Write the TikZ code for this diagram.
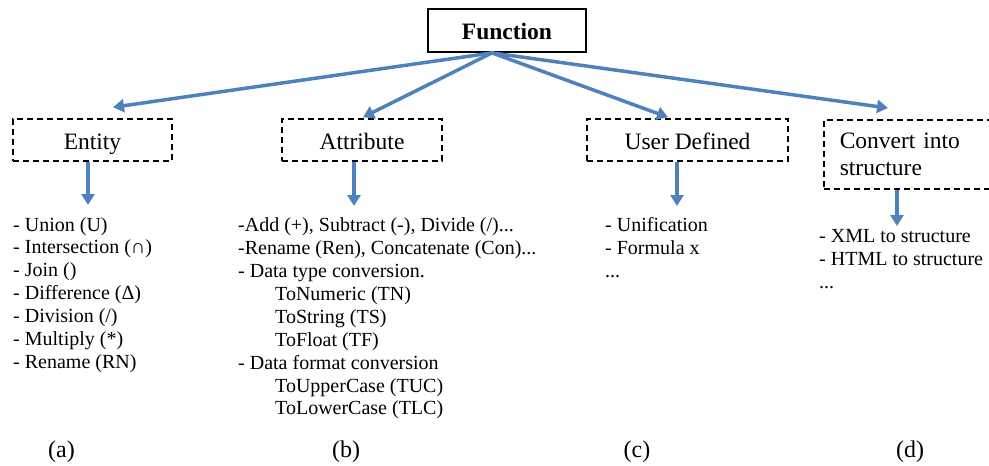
\documentclass[tikz,border=0pt]{standalone}
\usepackage{fontspec}
\setmainfont{Liberation Serif}
\usetikzlibrary{arrows.meta}
\definecolor{linkblue}{RGB}{79,129,189}
\begin{document}
\begin{tikzpicture}[x=1pt,y=-1pt,
  topbox/.style={draw=black, line width=1.8pt, minimum width=158pt, minimum height=43pt,
    inner sep=0pt, text height=19pt, text depth=2pt, font=\fontsize{23.5}{28}\selectfont\bfseries},
  catbox/.style={draw=black, line width=1.5pt, dash pattern=on 6pt off 4pt,
    minimum height=42pt, inner sep=0pt, font=\fontsize{23.5}{27}\selectfont},
  onerow/.style={text height=21pt, text depth=3pt},
  link/.style={draw=linkblue, line width=3.5pt, -{Triangle[width=13pt,length=11pt]}},
  item/.style={anchor=base west, inner sep=0pt, font=\fontsize{20}{23}\selectfont},
  tag/.style={anchor=base, inner sep=0pt, font=\fontsize{24}{28}\selectfont}]
\useasboundingbox (0,0) rectangle (989,466);

% top node and the four categories
\node[topbox] (fn) at (507,30.5) {Function};
\node[catbox, onerow, minimum width=159pt] (ent) at (92.5,140) {Entity};
\node[catbox, onerow, minimum width=160pt] (att) at (362,140) {Attribute};
\node[catbox, onerow, minimum width=201pt] (usr) at (687.5,140) {User Defined};
\node[catbox, anchor=north west, minimum width=175pt, minimum height=69pt,
  inner xsep=16pt, text width=143pt, align=left] (cnv) at (823,119)
  {Convert into\\structure};

% fan-out from the top node
\coordinate (hub) at ([xshift=-15pt]fn.south);
\draw[link] (hub) -- ([xshift=20.5pt,yshift=11pt]ent.north);
\draw[link] (hub) -- ([xshift=1pt,yshift=1pt]att.north);
\draw[link] (hub) -- ([xshift=-19.5pt,yshift=1pt]usr.north);
\draw[link] (hub) -- ([xshift=65pt,yshift=11pt]cnv.north west);

% arrows down to the lists
\coordinate (eEnd) at (88,205);
\coordinate (aEnd) at (354,206);
\coordinate (uEnd) at (677,206);
\coordinate (cEnd) at (897,226);
\draw[link] (ent.south -| eEnd) -- (eEnd);
\draw[link] (att.south -| aEnd) -- (aEnd);
\draw[link] (usr.south -| uEnd) -- (uEnd);
\draw[link] (cnv.south -| cEnd) -- (cEnd);

% entity operations
\node[item] (e1) at (13,231) {- Union (U)};
\node[item] (e2) at (13,253.9) {- Intersection (∩)};
\node[item] (e3) at (13,276.8) {- Join ()};
\node[item] (e4) at (13,299.7) {- Difference (Δ)};
\node[item] (e5) at (13,322.6) {- Division (/)};
\node[item] (e6) at (13,345.5) {- Multiply (*)};
\node[item] (e7) at (13,368.4) {- Rename (RN)};

% attribute operations
\node[item] (a1) at (238,231.7) {-Add (+), Subtract (-), Divide (/)...};
\node[item] (a2) at (238,254.6) {-Rename (Ren), Concatenate (Con)...};
\node[item] (a3) at (238,277.5) {- Data type conversion.};
\node[item] (a4) at (275,300.4) {ToNumeric (TN)};
\node[item] (a5) at (275,323.3) {ToString (TS)};
\node[item] (a6) at (275,346.2) {ToFloat (TF)};
\node[item] (a7) at (238,369.1) {- Data format conversion};
\node[item] (a8) at (275,392) {ToUpperCase (TUC)};
\node[item] (a9) at (275,414.9) {ToLowerCase (TLC)};

% user defined operations
\node[item] (u1) at (605,231.7) {- Unification};
\node[item] (u2) at (605,254.6) {- Formula x};
\node[item] (u3) at (605,277.5) {...};

% structure conversions
\node[item] (c1) at (819,242.7) {- XML to structure};
\node[item] (c2) at (819,265.6) {- HTML to structure};
\node[item] (c3) at (819,288.5) {...};

% panel tags
\node[tag] (ta) at (61.5,457) {(a)};
\node[tag] (tb) at (346,457) {(b)};
\node[tag] (tc) at (637,457) {(c)};
\node[tag] (td) at (910,457) {(d)};
\end{tikzpicture}
\end{document}
